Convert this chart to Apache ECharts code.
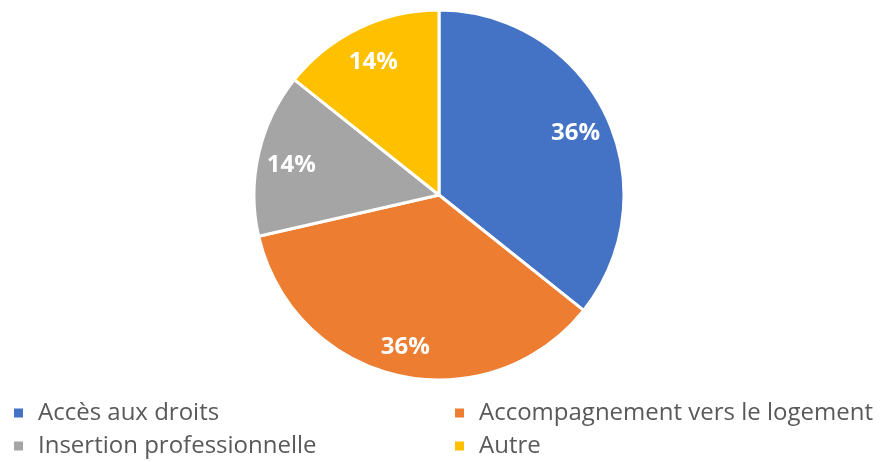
<!DOCTYPE html>
<html>
<head>
<meta charset="utf-8">
<script src="https://cdn.jsdelivr.net/npm/echarts@6/dist/echarts.min.js"></script>
<style>
  html, body { margin: 0; padding: 0; background: #ffffff; }
  #chart { width: 882px; height: 462px; }
</style>
</head>
<body>
<div id="chart"></div>
<script>
// Répartition des accompagnements par thème
const categories = ['Accès aux droits', 'Accompagnement vers le logement', 'Insertion professionnelle', 'Autre'];
const counts = [5, 5, 2, 2];
const colors = ['#4472C4', '#ED7D31', '#A5A5A5', '#FFC000'];

const pieData = categories.map((name, i) => ({ name, value: counts[i], itemStyle: { color: colors[i] } }));

const center = [439, 195];
const outerR = 185;

// legend laid out as a 2 x 2 grid: one legend block per entry
const legendCols = [12, 453];
const legendRows = [399, 432];
const legends = categories.map((name, i) => ({
  left: legendCols[i % 2],
  top: legendRows[Math.floor(i / 2)],
  padding: 0,
  data: [name],
  icon: 'rect',
  itemWidth: 11,
  itemHeight: 11,
  selectedMode: false,
  textStyle: { color: '#595959', fontFamily: 'Open Sans', fontSize: 24, lineHeight: 28, padding: [0, 0, 0, 9] }
}));

const chart = echarts.init(document.getElementById('chart'), null, { renderer: 'canvas' });
chart.setOption({
  animation: false,
  legend: legends,
  series: [
    {
      type: 'pie',
      center: center,
      radius: [0, outerR],
      startAngle: 90,
      clockwise: true,
      data: pieData,
      label: { show: false },
      labelLine: { show: false },
      itemStyle: { borderColor: '#ffffff', borderWidth: 3 },
      emphasis: { disabled: true }
    },
    {
      // ring used only to place the percentage labels near the outer edge
      type: 'pie',
      center: [center[0], center[1] + 4],
      radius: [112, outerR],
      startAngle: 90,
      clockwise: true,
      silent: true,
      percentPrecision: 0,
      data: pieData.map(d => ({ name: d.name, value: d.value, itemStyle: { color: 'rgba(0,0,0,0)' } })),
      itemStyle: { borderWidth: 0 },
      label: {
        show: true,
        position: 'inside',
        formatter: '{d}%',
        color: '#ffffff',
        fontFamily: 'Open Sans',
        fontWeight: 'bold',
        fontSize: 24
      },
      labelLine: { show: false },
      emphasis: { disabled: true }
    }
  ]
});
</script>
</body>
</html>
